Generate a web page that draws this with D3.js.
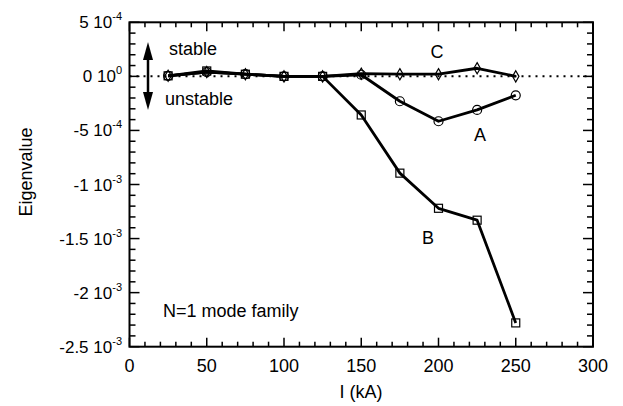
<!DOCTYPE html>
<html><head><meta charset="utf-8">
<script src="https://cdn.jsdelivr.net/npm/d3@7"></script>
<style>body{margin:0;background:#fff}svg{display:block}text{font-family:"Liberation Sans",Arial,Helvetica,sans-serif;fill:#000}</style>
</head><body><div id="c"></div>
<script>
const currents = [25, 50, 75, 100, 125, 150, 175, 200, 225, 250];
const seriesA = [0.05e-4, 0.4e-4, 0.2e-4, 0, 0, 0.15e-4, -2.3e-4, -4.15e-4, -3.1e-4, -1.75e-4];
const seriesB = [0.05e-4, 0.5e-4, 0.2e-4, 0, 0, -3.57e-4, -8.95e-4, -1.22e-3, -1.33e-3, -2.28e-3];
const seriesC = [0.05e-4, 0.4e-4, 0.2e-4, 0, 0, 0.25e-4, 0.2e-4, 0.2e-4, 0.75e-4, 0];
const xTicks = [0, 50, 100, 150, 200, 250, 300];
const yTickMant = ["5", "0", "-5", "-1", "-1.5", "-2", "-2.5"];
const yTickExp = ["-4", "0", "-4", "-3", "-3", "-3", "-3"];
const yTicks = [5e-4, 0, -5e-4, -1e-3, -1.5e-3, -2e-3, -2.5e-3];

const W = 623, H = 406;
const L = 129.5, R = 593, T = 22.3, B = 346.7;
const svg = d3.select("#c").append("svg").attr("width", W).attr("height", H);
const x = d3.scaleLinear().domain([0, 300]).range([L, R]);
const y = d3.scaleLinear().domain([-2.5e-3, 5e-4]).range([B, T]);

const g = svg.append("g");
g.append("rect").attr("x", L).attr("y", T).attr("width", R - L).attr("height", B - T)
  .attr("fill", "none").attr("stroke", "#000").attr("stroke-width", 2);

const xMinor = d3.range(0, 301, 10);
const yMinor = d3.range(-25, 6).map(v => v * 1e-4);
function isMajorX(v){ return v % 50 === 0; }
function isMajorY(v){ return Math.abs(Math.round(v*1e4) % 5) === 0; }
xMinor.forEach(v => {
  const len = isMajorX(v) ? 9 : 5;
  g.append("line").attr("x1", x(v)).attr("x2", x(v)).attr("y1", B).attr("y2", B - len).attr("stroke", "#000").attr("stroke-width", 1.5);
  g.append("line").attr("x1", x(v)).attr("x2", x(v)).attr("y1", T).attr("y2", T + len).attr("stroke", "#000").attr("stroke-width", 1.5);
});
yMinor.forEach(v => {
  const len = isMajorY(v) ? 10 : 6;
  g.append("line").attr("y1", y(v)).attr("y2", y(v)).attr("x1", L).attr("x2", L + len).attr("stroke", "#000").attr("stroke-width", 1.5);
  g.append("line").attr("y1", y(v)).attr("y2", y(v)).attr("x1", R).attr("x2", R - len).attr("stroke", "#000").attr("stroke-width", 1.5);
});

xTicks.forEach(v => {
  g.append("text").attr("x", x(v)).attr("y", 372).attr("text-anchor", "middle")
    .attr("font-size", 18).text(v);
});
yTicks.forEach((v, i) => {
  const t = g.append("text").attr("x", 122).attr("y", y(v) + 6).attr("text-anchor", "end").attr("font-size", 17);
  t.append("tspan").text(yTickMant[i] + " 10");
  t.append("tspan").attr("font-size", 11).attr("dy", -8).text(yTickExp[i]);
});

g.append("text").attr("x", 361).attr("y", 398).attr("text-anchor", "middle").attr("font-size", 18).text("I (kA)");
g.append("text").attr("transform", "translate(32,172) rotate(-90)").attr("text-anchor", "middle").attr("font-size", 18).text("Eigenvalue");

g.append("line").attr("x1", x(0)).attr("x2", x(300)).attr("y1", y(0)).attr("y2", y(0))
  .attr("stroke", "#000").attr("stroke-width", 2).attr("stroke-dasharray", "2,5");

const line = d3.line().x((d, i) => x(currents[i])).y(d => y(d));
[seriesB, seriesA, seriesC].forEach(s => {
  g.append("path").attr("d", line(s)).attr("fill", "none").attr("stroke", "#000").attr("stroke-width", 2.8).attr("stroke-linejoin", "round");
});

seriesB.forEach((v, i) => {
  g.append("rect").attr("x", x(currents[i]) - 4).attr("y", y(v) - 4).attr("width", 8).attr("height", 8)
    .attr("fill", "none").attr("stroke", "#000").attr("stroke-width", 1.2);
});
seriesA.forEach((v, i) => {
  g.append("circle").attr("cx", x(currents[i])).attr("cy", y(v)).attr("r", 4.5)
    .attr("fill", "none").attr("stroke", "#000").attr("stroke-width", 1.2);
});
const diamond = d3.symbol().type(d3.symbolDiamond).size(36);
seriesC.forEach((v, i) => {
  g.append("path").attr("d", diamond()).attr("transform", `translate(${x(currents[i])},${y(v)})`)
    .attr("fill", "none").attr("stroke", "#000").attr("stroke-width", 1.2);
});

const ax = 148;
g.append("line").attr("x1", ax).attr("x2", ax).attr("y1", 55).attr("y2", 97).attr("stroke", "#000").attr("stroke-width", 2.5);
g.append("path").attr("d", `M${ax},42 L${ax-5},60 L${ax+5},60 Z`).attr("fill", "#000");
g.append("path").attr("d", `M${ax},110 L${ax-5},92 L${ax+5},92 Z`).attr("fill", "#000");
g.append("text").attr("x", 169).attr("y", 55).attr("font-size", 18).text("stable");
g.append("text").attr("x", 165).attr("y", 105).attr("font-size", 18).text("unstable");

g.append("text").attr("x", 437).attr("y", 58).attr("text-anchor", "middle").attr("font-size", 18).text("C");
g.append("text").attr("x", 480).attr("y", 141).attr("text-anchor", "middle").attr("font-size", 18).text("A");
g.append("text").attr("x", 428).attr("y", 244).attr("text-anchor", "middle").attr("font-size", 18).text("B");
g.append("text").attr("x", 163).attr("y", 317).attr("font-size", 18).text("N=1 mode family");
</script></body></html>
